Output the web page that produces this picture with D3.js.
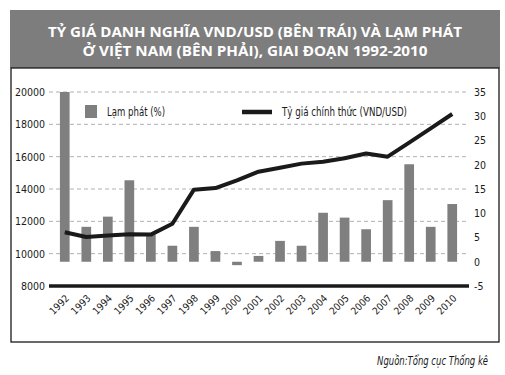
<!DOCTYPE html>
<html><head><meta charset="utf-8">
<script src="https://cdn.jsdelivr.net/npm/d3@7"></script>
<style>body{margin:0;background:#fff}svg{display:block}</style>
</head><body>
<svg id="c" width="505" height="375"></svg>
<script>
const years = ["1992","1993","1994","1995","1996","1997","1998","1999","2000","2001","2002","2003","2004","2005","2006","2007","2008","2009","2010"];
const inflation = [35, 7.2, 9.3, 16.8, 5.5, 3.3, 7.2, 2.2, -0.7, 1.2, 4.3, 3.3, 10.1, 9.1, 6.7, 12.7, 20.1, 7.2, 11.9];
const exchangeRate = [11320, 11030, 11120, 11200, 11180, 11850, 13960, 14060, 14540, 15070, 15320, 15570, 15690, 15900, 16200, 16000, 16870, 17750, 18640];
const leftTicks = [8000, 10000, 12000, 14000, 16000, 18000, 20000];
const rightTicks = [-5, 0, 5, 10, 15, 20, 25, 30, 35];
const titleLines = ["TỶ GIÁ DANH NGHĨA VND/USD (BÊN TRÁI) VÀ LẠM PHÁT", "Ở VIỆT NAM (BÊN PHẢI), GIAI ĐOẠN 1992-2010"];
const legendBar = "Lạm phát (%)";
const legendLine = "Tỷ giá chính thức (VND/USD)";
const source = "Nguồn:Tổng cục Thống kê";

const svg = d3.select("#c");
const FONT = "'DejaVu Sans Condensed','Liberation Sans Narrow',sans-serif";

// title box
svg.append("rect").attr("x",10).attr("y",10).attr("width",490).attr("height",58).attr("fill","#7d7d7d");
const tl = [{t:titleLines[0],y:37,w:414},{t:titleLines[1],y:56,w:345}];
svg.selectAll("text.title").data(tl).join("text").attr("class","title")
  .attr("x",255).attr("y",d=>d.y).attr("text-anchor","middle")
  .attr("fill","#fff").attr("font-family","'Open Sans',sans-serif").attr("font-weight","bold")
  .attr("font-size",14.5).attr("textLength",d=>d.w).attr("lengthAdjust","spacingAndGlyphs")
  .text(d=>d.t);

// chart frame
svg.append("rect").attr("x",11).attr("y",68).attr("width",488).attr("height",274)
  .attr("fill","none").attr("stroke","#1a1a1a").attr("stroke-width",1.3);

const x = d3.scaleBand().domain(years).range([54,463]).paddingInner(0.55).paddingOuter(0.275);
const yL = d3.scaleLinear().domain([8000,20000]).range([286,92]);
const yR = d3.scaleLinear().domain([-5,35]).range([286,92]);

// gridlines
svg.append("g").selectAll("line").data(leftTicks.filter(v=>v>8000)).join("line")
  .attr("x1",49).attr("x2",469).attr("y1",d=>yL(d)).attr("y2",d=>yL(d))
  .attr("stroke","#a8a8a8").attr("stroke-width",0.9).attr("stroke-dasharray","4,3");

// bars
svg.append("g").selectAll("rect").data(years.map((y,i)=>({y,v:inflation[i]}))).join("rect")
  .attr("x",d=>x(d.y)).attr("width",x.bandwidth())
  .attr("y",d=>Math.min(yR(d.v),yR(0))).attr("height",d=>Math.abs(yR(d.v)-yR(0)))
  .attr("fill","#7f7f7f");

// baseline
svg.append("line").attr("x1",49).attr("x2",469).attr("y1",yL(8000)).attr("y2",yL(8000))
  .attr("stroke","#1a1a1a").attr("stroke-width",3.5);

// line
const line = d3.line().x((d,i)=>x(years[i])+x.bandwidth()/2).y(d=>yL(d));
svg.append("path").datum(exchangeRate).attr("d",line).attr("fill","none")
  .attr("stroke","#1a1a1a").attr("stroke-width",4).attr("stroke-linejoin","round");

// axes
const axL = svg.append("g").attr("transform","translate(46,0)")
  .call(d3.axisLeft(yL).tickValues(leftTicks).tickSize(0).tickPadding(1).tickFormat(d=>String(d)));
const axR = svg.append("g").attr("transform","translate(473,0)")
  .call(d3.axisRight(yR).tickValues(rightTicks).tickSize(0).tickPadding(1).tickFormat(d=>String(d)));
[axL,axR].forEach(a=>{a.select(".domain").remove();a.selectAll("text").attr("font-family",FONT).attr("font-size",10.5).attr("fill","#1a1a1a");});

const axX = svg.append("g").attr("transform","translate(0,290)")
  .call(d3.axisBottom(x).tickSize(0).tickPadding(0));
axX.select(".domain").remove();
axX.selectAll("text").attr("font-family",FONT).attr("font-size",10).attr("fill","#1a1a1a")
  .attr("text-anchor","end").attr("dy","0").attr("y",0)
  .attr("transform","translate(5,9) rotate(-45)");

// legend
svg.append("rect").attr("x",85).attr("y",105).attr("width",12).attr("height",13).attr("fill","#7f7f7f");
svg.append("text").attr("x",107).attr("y",116).attr("font-family",FONT).attr("font-size",12)
  .attr("fill","#1a1a1a").attr("textLength",58).attr("lengthAdjust","spacingAndGlyphs").text(legendBar);
svg.append("line").attr("x1",242).attr("x2",272).attr("y1",112).attr("y2",112)
  .attr("stroke","#1a1a1a").attr("stroke-width",4.5);
svg.append("text").attr("x",282).attr("y",116).attr("font-family",FONT).attr("font-size",12)
  .attr("fill","#1a1a1a").attr("textLength",125).attr("lengthAdjust","spacingAndGlyphs").text(legendLine);

// source
const src = svg.append("text").attr("x",0).attr("y",0).attr("text-anchor","end")
  .attr("font-family",FONT).attr("font-style","italic").attr("font-size",13)
  .attr("fill","#1a1a1a").text(source);
const sw = src.node().getComputedTextLength();
src.attr("transform",`translate(488,365) scale(${111/sw},1)`);
</script>
</body></html>
